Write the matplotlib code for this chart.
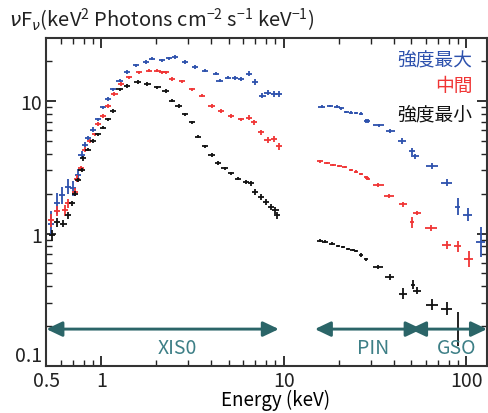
import numpy as np
import matplotlib.pyplot as plt
from matplotlib.patches import FancyArrowPatch
from matplotlib.ticker import FixedLocator, NullFormatter

plt.rcParams["font.family"] = ["Noto Sans CJK JP", "DejaVu Sans"]
plt.rcParams["mathtext.fontset"] = "custom"
plt.rcParams["mathtext.rm"] = "Noto Sans CJK JP"
plt.rcParams["mathtext.it"] = "DejaVu Sans:italic"

BLUE = "#2d51ad"
RED = "#f03535"
BLACK = "#111111"
TEAL = "#2b6568"
TEAL_TXT = "#3d7f86"

# XIS0 (keV, nuFnu)
xis_hi_e = [0.53, 0.571, 0.608, 0.66, 0.703, 0.748, 0.78, 0.813, 0.847, 0.902, 0.96, 1.02,
            1.087, 1.157, 1.26, 1.39, 1.55, 1.75, 1.9, 2.15, 2.35, 2.54, 2.88, 3.26, 3.7,
            4.27, 4.45, 4.94, 5.4, 5.83, 6.45, 6.98, 7.64, 8.15, 8.83, 9.4]
xis_hi_f = [1.19, 1.69, 1.95, 2.25, 2.19, 2.77, 3.94, 4.7, 5.28, 6.1, 7.3, 8.95,
            10.4, 12.3, 14.3, 16.6, 18.6, 19.7, 20.9, 20.3, 21.0, 21.6, 19.7, 18.1, 17.0,
            16.1, 14.3, 15.0, 14.9, 14.7, 16.1, 13.9, 11.0, 11.6, 11.3, 11.3]
xis_hi_yerr = [0.25, 0.2, 0.16, 0.14, 0.14, 0.1, 0.06, 0.05, 0.04, 0.04, 0.03, 0.03,
               0.03, 0.03, 0.03, 0.03, 0.03, 0.03, 0.03, 0.03, 0.03, 0.03, 0.03, 0.03, 0.03,
               0.03, 0.03, 0.03, 0.03, 0.03, 0.04, 0.05, 0.05, 0.05, 0.05, 0.05]

xis_mid_e = [0.53, 0.57, 0.634, 0.66, 0.718, 0.733, 0.774, 0.813, 0.866, 0.92, 0.96, 1.02,
             1.087, 1.18, 1.28, 1.42, 1.61, 1.83, 2.03, 2.15, 2.25, 2.44, 2.76, 3.13,
             3.55, 4.02, 4.55, 5.16, 5.84, 6.45, 6.88, 7.5, 8.15, 8.83, 9.4]
xis_mid_f = [1.26, 1.48, 1.5, 1.69, 2.07, 2.6, 3.1, 4.3, 5.0, 5.6, 6.7, 7.7,
             9.2, 11.3, 13.5, 15.1, 16.5, 17.0, 17.0, 16.5, 16.5, 14.7, 14.1, 12.3,
             11.0, 9.2, 8.4, 7.7, 7.3, 7.5, 6.9, 5.8, 5.1, 5.2, 4.55]
xis_mid_yerr = [0.12, 0.1, 0.1, 0.08, 0.07, 0.06, 0.05, 0.04, 0.03, 0.03, 0.03, 0.03,
                0.03, 0.03, 0.03, 0.03, 0.03, 0.03, 0.03, 0.03, 0.03, 0.03, 0.03, 0.03,
                0.03, 0.03, 0.03, 0.03, 0.03, 0.04, 0.04, 0.05, 0.05, 0.05, 0.06]

xis_lo_e = [0.537, 0.57, 0.62, 0.66, 0.69, 0.718, 0.748, 0.78, 0.796, 0.847, 0.902, 0.96,
            1.02, 1.087, 1.157, 1.26, 1.39, 1.58, 1.79, 2.03, 2.25, 2.44, 2.65, 2.88,
            3.13, 3.4, 3.7, 4.02, 4.37, 4.74, 5.16, 5.6, 6.2, 6.6, 6.98, 7.5, 8.0, 8.5,
            9.0, 9.2]
xis_lo_f = [0.97, 1.22, 1.19, 1.37, 1.69, 2.0, 2.54, 3.03, 3.7, 4.3, 5.0, 5.6,
            6.3, 7.3, 8.4, 12.3, 13.0, 13.9, 13.5, 12.7, 11.9, 10.1, 9.2, 7.95,
            6.9, 5.4, 4.55, 3.93, 3.4, 3.1, 2.85, 2.6, 2.46, 2.39, 2.07, 1.89, 1.73, 1.59,
            1.5, 1.37]
xis_lo_yerr = [0.1, 0.08, 0.07, 0.06, 0.05, 0.05, 0.04, 0.04, 0.04, 0.03, 0.03, 0.03,
               0.03, 0.03, 0.03, 0.03, 0.03, 0.03, 0.03, 0.03, 0.03, 0.03, 0.03, 0.03,
               0.03, 0.03, 0.03, 0.03, 0.03, 0.03, 0.03, 0.03, 0.04, 0.04, 0.05, 0.05,
               0.05, 0.06, 0.06, 0.07]

# HXD PIN + GSO
hxd_hi_e = [16.1, 17.9, 19.5, 20.7, 22.0, 23.4, 24.9, 26.5, 28.2, 29.0, 33.2, 38.4,
            44.6, 50.5, 52.6, 64.7, 78.2, 89.6, 102, 120]
hxd_hi_f = [9.1, 9.2, 9.1, 8.8, 8.3, 8.2, 8.1, 8.05, 7.07, 7.07, 6.55, 5.93,
            4.98, 4.17, 3.83, 3.25, 2.42, 1.59, 1.39, 0.86]
hxd_hi_xerr = [0.04, 0.04, 0.04, 0.03, 0.03, 0.03, 0.03, 0.03, 0.03, 0.03, 0.07, 0.06,
               0.05, 0.04, 0.05, 0.08, 0.07, 0.03, 0.06, 0.06]
hxd_hi_yerr = [0.02, 0.02, 0.02, 0.02, 0.02, 0.02, 0.02, 0.02, 0.03, 0.03, 0.03, 0.03,
               0.05, 0.07, 0.04, 0.05, 0.06, 0.16, 0.12, 0.3]

hxd_mid_e = [15.8, 17.2, 18.7, 20.2, 21.6, 23.4, 24.9, 26.5, 28.2, 29.0, 33.0, 37.7,
             45.0, 50.5, 53.7, 64.2, 78.2, 89.6, 103]
hxd_mid_f = [3.5, 3.4, 3.3, 3.25, 3.17, 3.03, 2.94, 2.82, 2.66, 2.6, 2.32, 1.92,
             1.66, 1.22, 1.43, 1.1, 0.82, 0.8, 0.64]
hxd_mid_xerr = [0.04, 0.04, 0.04, 0.03, 0.03, 0.03, 0.03, 0.03, 0.03, 0.03, 0.07, 0.06,
                0.05, 0.03, 0.05, 0.08, 0.06, 0.04, 0.06]
hxd_mid_yerr = [0.02, 0.02, 0.02, 0.02, 0.02, 0.02, 0.02, 0.02, 0.03, 0.03, 0.03, 0.04,
                0.05, 0.1, 0.04, 0.06, 0.07, 0.1, 0.15]

hxd_lo_e = [15.8, 16.8, 18.3, 19.8, 21.1, 22.5, 23.9, 24.9, 26.5, 28.2, 32.9, 38.0,
            44.9, 51.1, 53.6, 64.7, 78.2, 90.0]
hxd_lo_f = [0.885, 0.87, 0.84, 0.81, 0.79, 0.76, 0.75, 0.74, 0.69, 0.64, 0.56, 0.47,
            0.35, 0.41, 0.37, 0.29, 0.27, 0.19]
hxd_lo_xerr = [0.04, 0.04, 0.04, 0.03, 0.03, 0.03, 0.03, 0.03, 0.03, 0.03, 0.07, 0.06,
               0.05, 0.03, 0.05, 0.08, 0.07, 0.05]
hxd_lo_yerr = [0.02, 0.02, 0.02, 0.02, 0.02, 0.02, 0.02, 0.02, 0.03, 0.03, 0.04, 0.05,
               0.1, 0.08, 0.06, 0.1, 0.12, 0.35]

legend_labels = ["強度最大", "中間", "強度最小"]
band_names = ["XIS0", "PIN", "GSO"]
band_ranges = [(0.5, 9.4), (14.8, 57.0), (49.2, 130)]
band_label_x = [2.6, 30.8, 89]


def plot_set(ax, e, f, xerr_frac, yerr_frac, color, lw):
    e = np.asarray(e, float)
    f = np.asarray(f, float)
    xerr_frac = np.broadcast_to(np.asarray(xerr_frac, float), e.shape)
    yerr_frac = np.asarray(yerr_frac, float)
    xe = [e - e / (1 + xerr_frac), e * xerr_frac]
    ye = [f - f / (1 + yerr_frac), f * yerr_frac]
    ax.errorbar(e, f, xerr=xe, yerr=ye, fmt="none", ecolor=color,
                elinewidth=lw, capsize=0)


fig = plt.figure(figsize=(4.88, 4.14), dpi=100)
ax = fig.add_axes([0.095, 0.1135, 0.903, 0.7925])

series = [
    (xis_hi_e, xis_hi_f, xis_hi_yerr, hxd_hi_e, hxd_hi_f, hxd_hi_xerr, hxd_hi_yerr, BLUE),
    (xis_mid_e, xis_mid_f, xis_mid_yerr, hxd_mid_e, hxd_mid_f, hxd_mid_xerr, hxd_mid_yerr, RED),
    (xis_lo_e, xis_lo_f, xis_lo_yerr, hxd_lo_e, hxd_lo_f, hxd_lo_xerr, hxd_lo_yerr, BLACK),
]
for xe, xf, xy, he, hf, hx, hy, c in series:
    plot_set(ax, xe, xf, 0.04, xy, c, 1.3)
    plot_set(ax, he, hf, hx, hy, c, 1.3)

# instrument bands
arrow_y = 0.19
for (lo, hi), name, lx in zip(band_ranges, band_names, band_label_x):
    arr = FancyArrowPatch((lo, arrow_y), (hi, arrow_y),
                          arrowstyle="<|-|>,head_length=0.95,head_width=0.45",
                          mutation_scale=10, color=TEAL, lw=2.1,
                          shrinkA=0, shrinkB=0, zorder=5)
    ax.add_patch(arr)
    ax.text(lx, 0.137, name, color=TEAL_TXT, fontsize=14, ha="center", va="center")

ax.set_xscale("log")
ax.set_yscale("log")
ax.set_xlim(0.5, 130)
ax.set_ylim(0.1, 30)

ax.xaxis.set_major_locator(FixedLocator([0.5, 1, 10, 100]))
ax.set_xticklabels(["0.5", "1", "10", "100"])
ax.xaxis.set_minor_locator(FixedLocator([0.6, 0.7, 0.8, 0.9, 2, 3, 4, 5, 6, 7, 8, 9,
                                         20, 30, 40, 50, 60, 70, 80, 90]))
ax.xaxis.set_minor_formatter(NullFormatter())
ax.yaxis.set_major_locator(FixedLocator([0.1, 1, 10]))
ax.set_yticklabels(["0.1", "1", "10"])
ax.yaxis.set_minor_locator(FixedLocator([0.2, 0.3, 0.4, 0.5, 0.6, 0.7, 0.8, 0.9,
                                         2, 3, 4, 5, 6, 7, 8, 9, 20]))
ax.yaxis.set_minor_formatter(NullFormatter())

ax.tick_params(which="both", direction="in", top=True, right=True,
               labelsize=14, colors="#222222", pad=3)
ax.tick_params(which="major", length=7, width=1.3)
ax.tick_params(which="minor", length=4, width=1.0)
for s in ax.spines.values():
    s.set_linewidth(1.5)
    s.set_color("#333333")

# lowest y label sits just above the corner, as in the original
ax.get_yticklabels()[0].set_va("bottom")

ax.set_xlabel("Energy (keV)", fontsize=13.5, labelpad=0, va="center")
ax.xaxis.set_label_coords(0.52, -0.103)

fig.text(0.018, 0.952, r"$\nu$F$_\nu$(keV$^2$ Photons cm$^{-2}$ s$^{-1}$ keV$^{-1}$)",
         fontsize=14.5, ha="left", va="center", color="#222222")

for lab, c, yy in zip(legend_labels, [BLUE, RED, BLACK], [0.855, 0.79, 0.722]):
    fig.text(0.968, yy, lab, color=c, fontsize=13.5, ha="right", va="center")

fig.savefig("out.png", dpi=100)
